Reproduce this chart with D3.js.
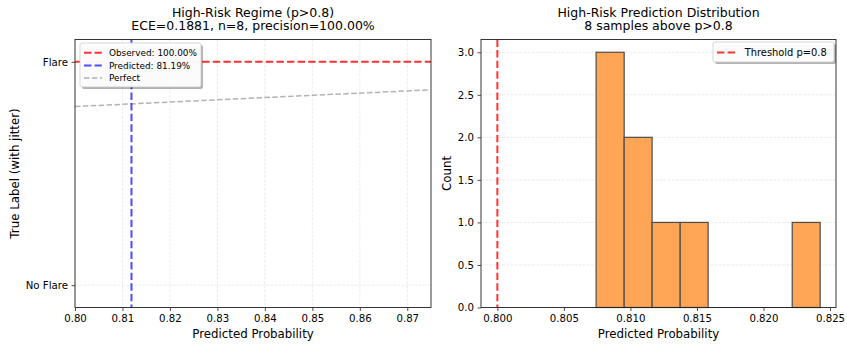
<!DOCTYPE html>
<html>
<head>
<meta charset="utf-8">
<script src="https://cdn.jsdelivr.net/npm/d3@7"></script>
<style>
  body { margin: 0; background: #fff; }
  text { font-family: "DejaVu Sans", sans-serif; fill: #000; }
</style>
</head>
<body>
<div id="fig"></div>
<script>
// ---- data ----
var leftXTicks = [0.80, 0.81, 0.82, 0.83, 0.84, 0.85, 0.86, 0.87];
var leftYTicks = [0, 1];
var leftYLabels = ["No Flare", "Flare"];
var observedRate = 1.0;       // observed flare rate
var predictedMean = 0.8119;   // mean predicted prob
var perfectX = [0.80, 0.8747]; // y = x reference

var binEdges = [0.80742, 0.80953, 0.81163, 0.81374, 0.81584, 0.81795, 0.82005, 0.82216, 0.82426];
var binCounts = [3, 2, 1, 1, 0, 0, 0, 1];
var rightXTicks = [0.800, 0.805, 0.810, 0.815, 0.820, 0.825];
var rightYTicks = [0, 0.5, 1.0, 1.5, 2.0, 2.5, 3.0];
var threshold = 0.8;

var legendLeft = [
  { label: "Observed: 100.00%", color: "#ff3333", width: 2, dash: "7.4,3.2" },
  { label: "Predicted: 81.19%", color: "#4d4dff", width: 2, dash: "7.4,3.2" },
  { label: "Perfect", color: "#b3b3b3", width: 1.5, dash: "5.5,2.4" }
];
var legendRight = [
  { label: "Threshold p=0.8", color: "#ff3333", width: 2, dash: "7.4,3.2" }
];

var W = 847, H = 348;
var svg = d3.select("#fig").append("svg")
  .attr("width", W)
  .attr("height", H);

var plotTop = 39.5, plotBottom = 307.5;

function drawGridX(g, x, ticks) {
  g.selectAll(".gx").data(ticks).enter().append("line")
    .attr("x1", function (d) { return x(d); })
    .attr("x2", function (d) { return x(d); })
    .attr("y1", plotTop).attr("y2", plotBottom)
    .attr("stroke", "#b0b0b0").attr("stroke-opacity", 0.3)
    .attr("stroke-width", 0.8).attr("stroke-dasharray", "2.96,1.28");
}
function drawGridY(g, y, ticks, x0, x1) {
  g.selectAll(".gy").data(ticks).enter().append("line")
    .attr("x1", x0).attr("x2", x1)
    .attr("y1", function (d) { return y(d); })
    .attr("y2", function (d) { return y(d); })
    .attr("stroke", "#b0b0b0").attr("stroke-opacity", 0.3)
    .attr("stroke-width", 0.8).attr("stroke-dasharray", "2.96,1.28");
}

function styleAxis(sel) {
  sel.select(".domain").remove();
  sel.selectAll(".tick line").attr("stroke", "#222").attr("stroke-width", 0.8);
  sel.selectAll(".tick text").style("font-size", "10.2px").attr("fill", "#000");
}

function drawLegend(g, items, x0, y0, w, fs) {
  var rowH = fs * 1.42;
  var h = items.length * rowH + 6;
  g.append("rect")
    .attr("x", x0 + 2).attr("y", y0 + 2)
    .attr("width", w).attr("height", h)
    .attr("rx", 2).attr("fill", "#000").attr("fill-opacity", 0.3);
  g.append("rect")
    .attr("x", x0).attr("y", y0)
    .attr("width", w).attr("height", h)
    .attr("rx", 2).attr("fill", "#fff").attr("fill-opacity", 0.95)
    .attr("stroke", "#cccccc").attr("stroke-width", 0.8);
  items.forEach(function (d, i) {
    var cy = y0 + 3 + rowH * (i + 0.5) + 0.5;
    g.append("line")
      .attr("x1", x0 + 4).attr("x2", x0 + 4 + 2 * fs)
      .attr("y1", cy).attr("y2", cy)
      .attr("stroke", d.color).attr("stroke-width", d.width)
      .attr("stroke-dasharray", d.dash);
    g.append("text")
      .attr("x", x0 + 4 + 2.8 * fs).attr("y", cy)
      .attr("dy", "0.35em")
      .style("font-size", fs + "px")
      .text(d.label);
  });
}

// ================= Left panel =================
var L = { left: 75, right: 431 };
var x1 = d3.scaleLinear().domain([0.80, 0.875]).range([L.left, L.right]);
var y1 = d3.scaleLinear().domain([-0.1, 1.1]).range([plotBottom, plotTop]);

var g1 = svg.append("g");
drawGridX(g1, x1, leftXTicks);
drawGridY(g1, y1, leftYTicks, L.left, L.right);

svg.append("clipPath").attr("id", "clip1").append("rect")
  .attr("x", L.left).attr("y", plotTop).attr("width", L.right - L.left).attr("height", plotBottom - plotTop);
var p1 = g1.append("g").attr("clip-path", "url(#clip1)");

// perfect calibration y = x
p1.append("line")
  .attr("x1", x1(perfectX[0])).attr("y1", y1(perfectX[0]))
  .attr("x2", x1(perfectX[1])).attr("y2", y1(perfectX[1]))
  .attr("stroke", "#808080").attr("stroke-opacity", 0.6)
  .attr("stroke-width", 1.5).attr("stroke-dasharray", "5.5,2.4");
// observed
p1.append("line")
  .attr("x1", L.left).attr("x2", L.right)
  .attr("y1", y1(observedRate)).attr("y2", y1(observedRate))
  .attr("stroke", "red").attr("stroke-opacity", 0.8)
  .attr("stroke-width", 2).attr("stroke-dasharray", "7.4,3.2");
// predicted
p1.append("line")
  .attr("x1", x1(predictedMean)).attr("x2", x1(predictedMean))
  .attr("y1", plotTop).attr("y2", plotBottom)
  .attr("stroke", "blue").attr("stroke-opacity", 0.7)
  .attr("stroke-width", 2).attr("stroke-dasharray", "7.4,3.2");

var ax1 = g1.append("g")
  .attr("transform", "translate(0," + plotBottom + ")")
  .call(d3.axisBottom(x1).tickValues(leftXTicks).tickFormat(d3.format(".2f")).tickSize(3.5).tickPadding(3.5));
styleAxis(ax1);
var ay1 = g1.append("g")
  .attr("transform", "translate(" + L.left + ",0)")
  .call(d3.axisLeft(y1).tickValues(leftYTicks).tickFormat(function (d, i) { return leftYLabels[i]; }).tickSize(3.5).tickPadding(3.5));
styleAxis(ay1);

g1.append("rect")
  .attr("x", L.left).attr("y", plotTop)
  .attr("width", L.right - L.left).attr("height", plotBottom - plotTop)
  .attr("fill", "none").attr("stroke", "#222").attr("stroke-width", 0.9);

drawLegend(g1, legendLeft, 80, 43, 121, 8.9);

g1.append("text").attr("x", (L.left + L.right) / 2).attr("y", 16.5)
  .attr("text-anchor", "middle").style("font-size", "12.5px").text("High-Risk Regime (p>0.8)");
g1.append("text").attr("x", (L.left + L.right) / 2).attr("y", 30)
  .attr("text-anchor", "middle").style("font-size", "12.5px").text("ECE=0.1881, n=8, precision=100.00%");
g1.append("text").attr("x", (L.left + L.right) / 2).attr("y", 338)
  .attr("text-anchor", "middle").style("font-size", "11.8px").text("Predicted Probability");
g1.append("text")
  .attr("transform", "translate(19," + (plotTop + plotBottom) / 2 + ") rotate(-90)")
  .attr("text-anchor", "middle").style("font-size", "11.8px").text("True Label (with jitter)");

// ================= Right panel =================
var R = { left: 481, right: 836 };
var x2 = d3.scaleLinear().domain([0.79877, 0.82545]).range([R.left, R.right]);
var y2 = d3.scaleLinear().domain([0, 3.15]).range([plotBottom, plotTop]);

var g2 = svg.append("g");
drawGridY(g2, y2, rightYTicks, R.left, R.right);

var bins = binCounts.map(function (c, i) {
  return { x0: binEdges[i], x1: binEdges[i + 1], count: c };
});

// empty bins show as edge on baseline
g2.append("line")
  .attr("x1", x2(binEdges[0])).attr("x2", x2(binEdges[binEdges.length - 1]))
  .attr("y1", y2(0)).attr("y2", y2(0))
  .attr("stroke", "#4d4d4d").attr("stroke-width", 1.2);

g2.selectAll(".bar")
  .data(bins.filter(function (d) { return d.count > 0; }))
  .enter().append("rect")
  .attr("class", "bar")
  .attr("x", function (d) { return x2(d.x0); })
  .attr("width", function (d) { return x2(d.x1) - x2(d.x0); })
  .attr("y", function (d) { return y2(d.count); })
  .attr("height", function (d) { return y2(0) - y2(d.count); })
  .attr("fill", "#ffa556")
  .attr("stroke", "#4d4d4d")
  .attr("stroke-width", 1.2);

g2.append("line")
  .attr("x1", x2(threshold)).attr("x2", x2(threshold))
  .attr("y1", plotTop).attr("y2", plotBottom)
  .attr("stroke", "red").attr("stroke-opacity", 0.8)
  .attr("stroke-width", 2).attr("stroke-dasharray", "7.4,3.2");

var ax2 = g2.append("g")
  .attr("transform", "translate(0," + plotBottom + ")")
  .call(d3.axisBottom(x2).tickValues(rightXTicks).tickFormat(d3.format(".3f")).tickSize(3.5).tickPadding(3.5));
styleAxis(ax2);
var ay2 = g2.append("g")
  .attr("transform", "translate(" + R.left + ",0)")
  .call(d3.axisLeft(y2).tickValues(rightYTicks).tickFormat(d3.format(".1f")).tickSize(3.5).tickPadding(3.5));
styleAxis(ay2);

g2.append("rect")
  .attr("x", R.left).attr("y", plotTop)
  .attr("width", R.right - R.left).attr("height", plotBottom - plotTop)
  .attr("fill", "none").attr("stroke", "#222").attr("stroke-width", 0.9);

drawLegend(g2, legendRight, 713, 42, 121, 9.9);

g2.append("text").attr("x", (R.left + R.right) / 2).attr("y", 16.5)
  .attr("text-anchor", "middle").style("font-size", "12.5px").text("High-Risk Prediction Distribution");
g2.append("text").attr("x", (R.left + R.right) / 2).attr("y", 30)
  .attr("text-anchor", "middle").style("font-size", "12.5px").text("8 samples above p>0.8");
g2.append("text").attr("x", (R.left + R.right) / 2).attr("y", 338)
  .attr("text-anchor", "middle").style("font-size", "11.8px").text("Predicted Probability");
g2.append("text")
  .attr("transform", "translate(451," + (plotTop + plotBottom) / 2 + ") rotate(-90)")
  .attr("text-anchor", "middle").style("font-size", "11.8px").text("Count");
</script>
</body>
</html>
